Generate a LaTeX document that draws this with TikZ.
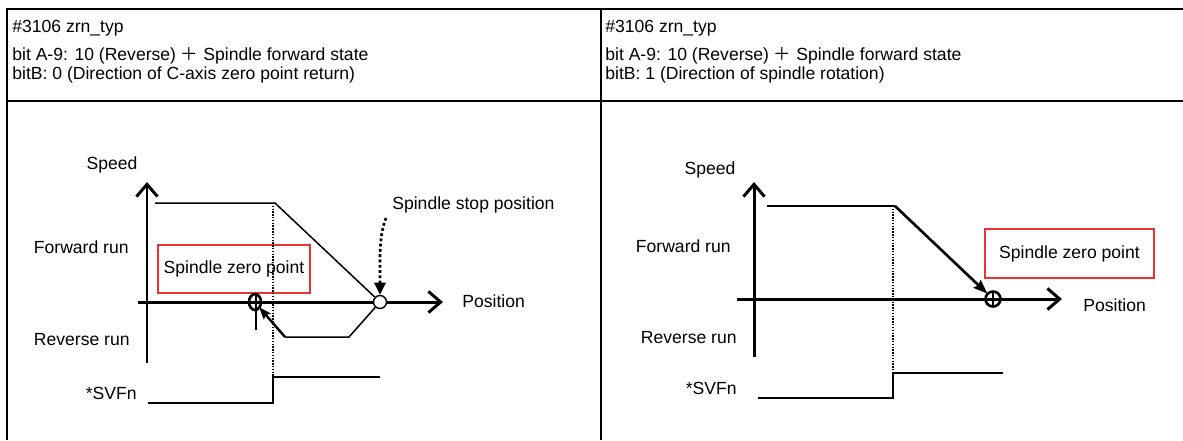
\documentclass[tikz,border=0pt]{standalone}
\usepackage{fontspec}
\setmainfont{Liberation Sans}
\newfontfamily\cjkfont{Noto Sans CJK SC}
\usetikzlibrary{arrows.meta}
\definecolor{boxred}{RGB}{232,52,52}

\begin{document}
\begin{tikzpicture}[
  x=0.02cm, y=-0.02cm,
  every node/.style = {font=\fontsize{10}{12}\selectfont, inner sep=0pt},
  frame/.style      = {line width=1.1pt},
  head/.style       = {anchor=base west},
  lbl/.style        = {anchor=east},
  axis/.style       = {line width=1.7pt, -{Straight Barb[length=7pt,width=12pt,line width=1.7pt]}},
  profile/.style    = {line width=0.85pt},
  decel/.style      = {line width=1.5pt, -{Stealth[length=8pt,width=6pt,inset=1pt]}},
  back/.style       = {line width=1.4pt, -{Stealth[length=7pt,width=5pt,inset=1pt]}},
  guide/.style      = {line width=0.7pt, dash pattern=on 0.8pt off 0.8pt},
  pointer/.style    = {line width=1.5pt, dash pattern=on 1.6pt off 1.4pt, -{Triangle[length=7pt,width=6.5pt]}},
  signal/.style     = {line width=0.85pt},
  zerobox/.style    = {draw=boxred, line width=0.8pt, minimum width=3.04cm, minimum height=0.96cm},
  stopmark/.style   = {draw, circle, fill=white, line width=0.8pt, minimum size=0.26cm},
  zeromark/.style   = {line width=1.5pt},
]
  \useasboundingbox (0,0) rectangle (1183,440);

  % table
  \draw[frame] (1183,9) -- (7,9) -- (7,440);
  \draw[frame] (7,101) -- (1183,101);
  \draw[frame] (601,9) -- (601,440);

  \node[head] (lh1) at (12,32) {\#3106 zrn\_typ};
  \node[head] (lh2) at (12,60) {bit A-9: 10 (Reverse) {\cjkfont ＋} Spindle forward state};
  \node[head] (lh3) at (12,79) {bitB: 0 (Direction of C-axis zero point return)};
  \node[head] (rh1) at (605,32) {\#3106 zrn\_typ};
  \node[head] (rh2) at (605,60) {bit A-9: 10 (Reverse) {\cjkfont ＋} Spindle forward state};
  \node[head] (rh3) at (605,79) {bitB: 1 (Direction of spindle rotation)};

  % left: return in C-axis zero point direction
  \coordinate (lyb) at (147,363);
  \coordinate (lyt) at (147,182);
  \coordinate (lxl) at (138,302);
  \coordinate (lxr) at (443,302);
  \draw[axis] (lyb) -- (lyt);
  \draw[axis] (lxl) -- (lxr);

  \node (lspeed) at (112,165) {Speed};
  \node[lbl] (lfwd) at (129,247) {Forward run};
  \node[lbl] (lrev) at (130,340) {Reverse run};
  \node[lbl] (lsvf) at (137,393) {*SVFn};
  \node[anchor=west] (lpos) at (462,301) {Position};
  \node[anchor=west] (lstoptxt) at (392,205) {Spindle stop position};
  \node[zerobox] (lzero) at (234,269) {Spindle zero point};

  \coordinate (lflat) at (155,203);
  \coordinate (lknee) at (275,203);
  \coordinate (lturn) at (349,337);
  \coordinate (lcreep) at (285,337);
  \coordinate (lhit) at (259,307);
  \node[stopmark] (lstop) at (380,302) {};

  \draw[guide] (273,203) -- (273,377);
  \draw[profile] (lflat) -- (lknee) -- (lstop);
  \draw[profile] (lstop) -- (lturn) -- (lcreep);
  \draw[back] (lcreep) -- (lhit);
  \draw[zeromark] (255,302) ellipse (6 and 8);
  \draw[profile] (256,294) -- (256,330);
  \draw[pointer] (386,218) .. controls (379,236) and (380,255) .. (lstop.north);

  \draw[signal] (148,403) -- (273,403) -- (273,377) -- (380,377);

  % right: return in spindle rotation direction
  \coordinate (ryb) at (754,357);
  \coordinate (ryt) at (754,182);
  \coordinate (rxl) at (737,299);
  \coordinate (rxr) at (1062,299);
  \draw[axis] (ryb) -- (ryt);
  \draw[axis] (rxl) -- (rxr);

  \node (rspeed) at (710,170) {Speed};
  \node[lbl] (rfwd) at (731,246) {Forward run};
  \node[lbl] (rrev) at (737,338) {Reverse run};
  \node[lbl] (rsvf) at (737,388) {*SVFn};
  \node[anchor=west] (rpos) at (1083,305) {Position};
  \node[zerobox, minimum width=3.38cm, minimum height=0.98cm] (rzero) at (1069.5,253.5) {Spindle zero point};

  \coordinate (rflat) at (767,206);
  \coordinate (rknee) at (895,206);
  \node[circle, minimum size=0.3cm] (rzp) at (993,299) {};

  \draw[guide] (893,206) -- (893,373);
  \draw[profile] (rflat) -- (rknee);
  \draw[decel] (rknee) -- (rzp);
  \draw[zeromark] (rzp.center) circle (7.5);
  \draw[profile] (993,291) -- (993,307);

  \draw[signal] (758,398) -- (893,398) -- (893,373) -- (1003,373);
\end{tikzpicture}
\end{document}
